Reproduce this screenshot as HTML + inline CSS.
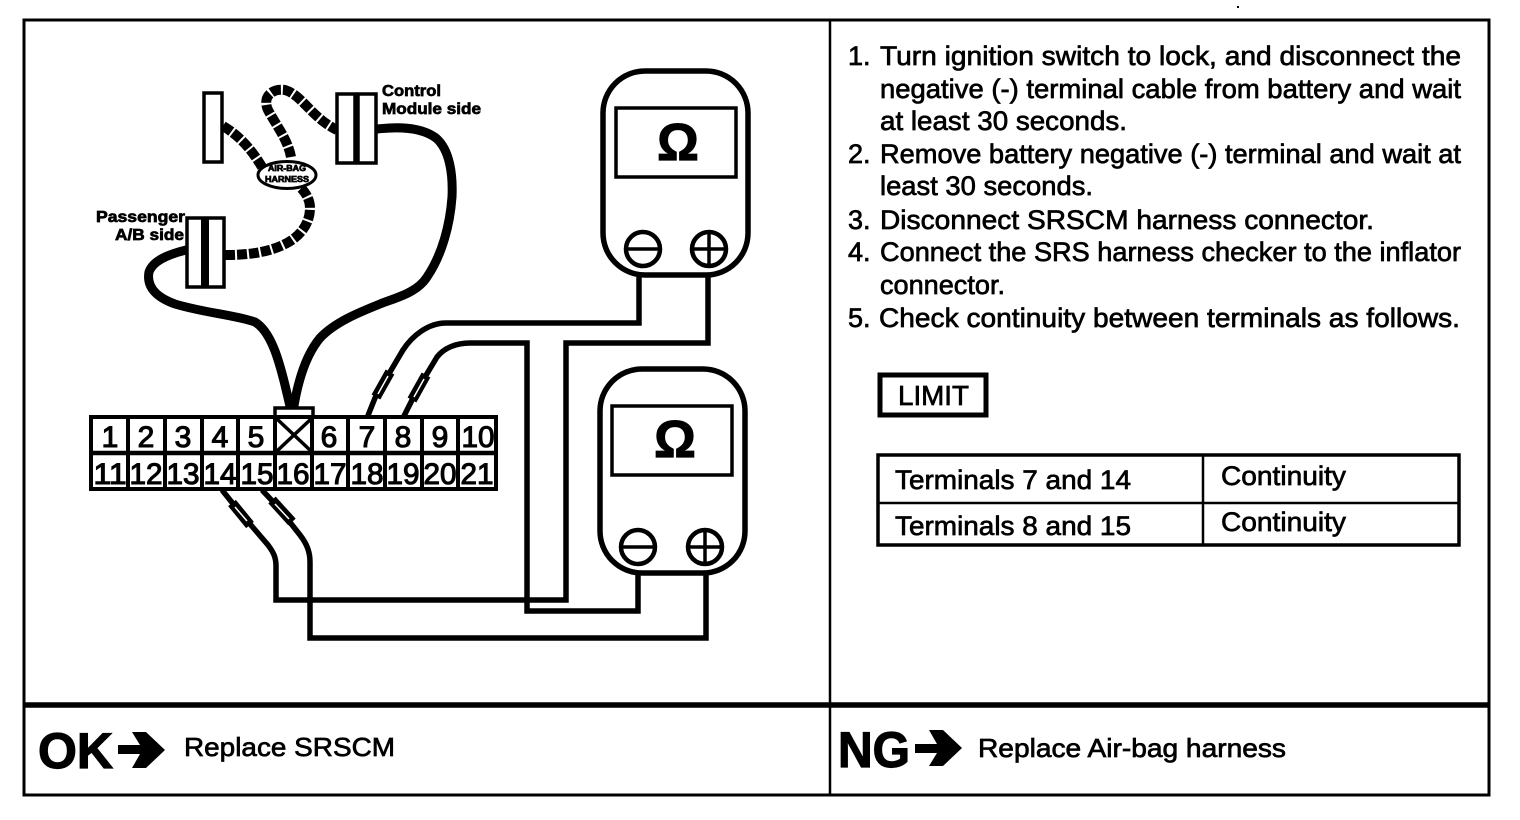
<!DOCTYPE html>
<html><head><meta charset="utf-8"><style>
html,body{margin:0;padding:0;background:#fff}
svg{display:block}
text{font-family:"Liberation Sans",Arial,sans-serif;fill:#000;stroke:#000;stroke-width:.7}
</style></head><body>
<svg width="1520" height="820" viewBox="0 0 1520 820" xmlns="http://www.w3.org/2000/svg">
<rect width="1520" height="820" fill="#fff"/>
<rect x="1237" y="6" width="2" height="2" fill="#000"/>
<!-- frame -->
<rect x="24" y="20" width="1465" height="775" fill="none" stroke="#000" stroke-width="3"/>
<line x1="830" y1="20" x2="830" y2="795" stroke="#000" stroke-width="2.5"/>
<line x1="24" y1="705" x2="1489" y2="705" stroke="#000" stroke-width="5.5"/>

<!-- harness solid -->
<g fill="none" stroke="#000" stroke-linecap="round" stroke-linejoin="round">
<path stroke-width="9" d="M377 129C395 127 420 126 436 138C450 150 453 175 452 197C450 225 442 255 427 277C417 293 395 298 380 304C360 312 335 322 320 338C305 356 297 385 293 412"/>
<path stroke-width="9" d="M186 250C170 254 153 260 149 272C146 288 158 298 175 304C205 313 235 315 255 322C272 332 280 365 285 385C288 398 290 405 291 412"/>
<path stroke-width="10" stroke-dasharray="10 2" stroke-linecap="butt" d="M225 255C250 255 270 252 287 243C302 235 310 222 310 208C310 200 306 193 301 188"/>
<path stroke-width="10" stroke-dasharray="10 2" stroke-linecap="butt" d="M223 126C238 135 250 147 262 167"/>
<path stroke-width="10" stroke-dasharray="10 2" stroke-linecap="butt" d="M291 157C288 140 276 125 268 110C262 97 272 88 285 90C302 95 312 118 337 130"/>
</g>
<!-- harness connectors -->
<g fill="#fff" stroke="#000" stroke-width="3.5">
<rect x="204" y="93" width="18" height="69"/>
<rect x="337" y="94" width="18" height="69"/>
<rect x="358" y="94" width="18" height="69"/>
<rect x="187" y="218" width="37" height="69"/>
</g>
<rect x="201" y="218" width="8" height="69" fill="#000"/>
<ellipse cx="287" cy="175" rx="29" ry="13.5" fill="#fff" stroke="#000" stroke-width="3"/>
<text x="268" y="171" font-size="8" font-weight="bold" textLength="38" lengthAdjust="spacingAndGlyphs">AIR-BAG</text>
<text x="265" y="182" font-size="8" font-weight="bold" textLength="44" lengthAdjust="spacingAndGlyphs">HARNESS</text>
<text x="382" y="96" font-size="16" font-weight="bold" textLength="59" lengthAdjust="spacingAndGlyphs">Control</text>
<text x="382" y="114" font-size="16" font-weight="bold" textLength="99" lengthAdjust="spacingAndGlyphs">Module side</text>
<text x="96" y="222" font-size="16" font-weight="bold" textLength="89" lengthAdjust="spacingAndGlyphs">Passenger</text>
<text x="115" y="240" font-size="16" font-weight="bold" textLength="69" lengthAdjust="spacingAndGlyphs">A/B side</text>

<!-- wires -->
<g fill="none" stroke="#000" stroke-width="5.5" stroke-linejoin="miter">
<path d="M367 418L375 398L390 372L403 350C412 336 428 323 446 323L639 323L639 277"/>
<path d="M403 418L412 400L425 377L437 357C444 348 456 343 470 343L527 343L527 611L638 611L638 575"/>
<path d="M222 490L238 510L268 545C274 553 276 558 276 566L276 600L566 600L566 343L708 343L708 277"/>
<path d="M262 490L278 507L300 535C307 544 310 552 310 562L310 638L706 638L706 575"/>
</g>
<!-- probes -->
<g stroke-linecap="butt">
<line x1="376" y1="397" x2="390" y2="372" stroke="#000" stroke-width="10"/>
<line x1="378" y1="394" x2="388" y2="376" stroke="#fff" stroke-width="1.5"/>
<line x1="412" y1="400" x2="426" y2="375" stroke="#000" stroke-width="10"/>
<line x1="414" y1="397" x2="424" y2="379" stroke="#fff" stroke-width="1.5"/>
<line x1="232" y1="503" x2="250" y2="525" stroke="#000" stroke-width="10"/>
<line x1="235" y1="507" x2="247" y2="521" stroke="#fff" stroke-width="1.5"/>
<line x1="272" y1="500" x2="292" y2="522" stroke="#000" stroke-width="10"/>
<line x1="275" y1="504" x2="289" y2="519" stroke="#fff" stroke-width="1.5"/>
</g>

<!-- terminal block -->
<rect x="275" y="408" width="38" height="10" fill="#fff" stroke="#000" stroke-width="3.5"/>
<rect x="91" y="417" width="405" height="72" fill="#fff" stroke="#000" stroke-width="4"/>
<line x1="91" y1="453" x2="496" y2="453" stroke="#000" stroke-width="4.5"/>
<g stroke="#000" stroke-width="4">
<line x1="128" y1="417" x2="128" y2="489"/><line x1="165" y1="417" x2="165" y2="489"/>
<line x1="202" y1="417" x2="202" y2="489"/><line x1="238" y1="417" x2="238" y2="489"/>
<line x1="275" y1="417" x2="275" y2="489"/><line x1="312" y1="417" x2="312" y2="489"/>
<line x1="348" y1="417" x2="348" y2="489"/><line x1="385" y1="417" x2="385" y2="489"/>
<line x1="422" y1="417" x2="422" y2="489"/><line x1="458" y1="417" x2="458" y2="489"/>
<line x1="277" y1="419" x2="311" y2="451" stroke-width="3.5"/><line x1="311" y1="419" x2="277" y2="451" stroke-width="3.5"/>
</g>
<g text-anchor="middle" style="stroke-width:1.1">
<g font-size="30">
<text x="110" y="447" style="stroke-width:1.1">1</text><text x="146" y="447" style="stroke-width:1.1">2</text><text x="183" y="447" style="stroke-width:1.1">3</text><text x="220" y="447" style="stroke-width:1.1">4</text><text x="256" y="447" style="stroke-width:1.1">5</text>
<text x="329" y="447" style="stroke-width:1.1">6</text><text x="367" y="447" style="stroke-width:1.1">7</text><text x="403" y="447" style="stroke-width:1.1">8</text><text x="440" y="447" style="stroke-width:1.1">9</text><text x="478" y="447" textLength="33" lengthAdjust="spacingAndGlyphs" style="stroke-width:1.1">10</text>
<text x="110" y="484" textLength="33" lengthAdjust="spacingAndGlyphs" style="stroke-width:1.1">11</text><text x="146" y="484" textLength="33" lengthAdjust="spacingAndGlyphs" style="stroke-width:1.1">12</text><text x="183" y="484" textLength="33" lengthAdjust="spacingAndGlyphs" style="stroke-width:1.1">13</text><text x="220" y="484" textLength="33" lengthAdjust="spacingAndGlyphs" style="stroke-width:1.1">14</text><text x="257" y="484" textLength="33" lengthAdjust="spacingAndGlyphs" style="stroke-width:1.1">15</text><text x="293" y="484" textLength="33" lengthAdjust="spacingAndGlyphs" style="stroke-width:1.1">16</text><text x="330" y="484" textLength="33" lengthAdjust="spacingAndGlyphs" style="stroke-width:1.1">17</text><text x="367" y="484" textLength="33" lengthAdjust="spacingAndGlyphs" style="stroke-width:1.1">18</text><text x="403" y="484" textLength="33" lengthAdjust="spacingAndGlyphs" style="stroke-width:1.1">19</text><text x="440" y="484" textLength="33" lengthAdjust="spacingAndGlyphs" style="stroke-width:1.1">20</text><text x="477" y="484" textLength="33" lengthAdjust="spacingAndGlyphs" style="stroke-width:1.1">21</text>
</g></g>

<!-- meter 1 -->
<rect x="603" y="71" width="145" height="204" rx="42" ry="42" fill="#fff" stroke="#000" stroke-width="5.5"/>
<rect x="616" y="108" width="120" height="69" fill="#fff" stroke="#000" stroke-width="3.5"/>
<text x="678" y="160" font-size="52" font-weight="bold" text-anchor="middle" style="stroke-width:1.2">Ω</text>
<circle cx="643" cy="249" r="17" fill="#fff" stroke="#000" stroke-width="4.5"/>
<line x1="627" y1="249" x2="659" y2="249" stroke="#000" stroke-width="3.5"/>
<circle cx="709" cy="249" r="17" fill="#fff" stroke="#000" stroke-width="4.5"/>
<line x1="693" y1="249" x2="725" y2="249" stroke="#000" stroke-width="3.5"/>
<line x1="709" y1="233" x2="709" y2="265" stroke="#000" stroke-width="3.5"/>

<!-- meter 2 -->
<rect x="600" y="369" width="145" height="204" rx="42" ry="42" fill="#fff" stroke="#000" stroke-width="5.5"/>
<rect x="612" y="406" width="120" height="69" fill="#fff" stroke="#000" stroke-width="3.5"/>
<text x="675" y="457" font-size="52" font-weight="bold" text-anchor="middle" style="stroke-width:1.2">Ω</text>
<circle cx="638" cy="547" r="17" fill="#fff" stroke="#000" stroke-width="4.5"/>
<line x1="622" y1="547" x2="654" y2="547" stroke="#000" stroke-width="3.5"/>
<circle cx="705" cy="547" r="17" fill="#fff" stroke="#000" stroke-width="4.5"/>
<line x1="689" y1="547" x2="721" y2="547" stroke="#000" stroke-width="3.5"/>
<line x1="705" y1="531" x2="705" y2="563" stroke="#000" stroke-width="3.5"/>

<!-- instructions -->
<g font-size="27">
<text x="848" y="65">1.</text><text x="880" y="65" textLength="581" lengthAdjust="spacingAndGlyphs">Turn ignition switch to lock, and disconnect the</text>
<text x="880" y="98" textLength="581" lengthAdjust="spacingAndGlyphs">negative (-) terminal cable from battery and wait</text>
<text x="880" y="130" textLength="247" lengthAdjust="spacingAndGlyphs">at least 30 seconds.</text>
<text x="848" y="163">2.</text><text x="880" y="163" textLength="581" lengthAdjust="spacingAndGlyphs">Remove battery negative (-) terminal and wait at</text>
<text x="880" y="195" textLength="213" lengthAdjust="spacingAndGlyphs">least 30 seconds.</text>
<text x="848" y="229">3.</text><text x="880" y="229" textLength="494" lengthAdjust="spacingAndGlyphs">Disconnect SRSCM harness connector.</text>
<text x="848" y="261">4.</text><text x="880" y="261" textLength="581" lengthAdjust="spacingAndGlyphs">Connect the SRS harness checker to the inflator</text>
<text x="880" y="294" textLength="125" lengthAdjust="spacingAndGlyphs">connector.</text>
<text x="848" y="327">5.</text><text x="879" y="327" textLength="581" lengthAdjust="spacingAndGlyphs">Check continuity between terminals as follows.</text>
</g>

<!-- LIMIT -->
<rect x="880" y="375" width="106" height="40" fill="#fff" stroke="#000" stroke-width="5"/>
<text x="898" y="405" font-size="28" textLength="71" lengthAdjust="spacingAndGlyphs">LIMIT</text>

<!-- table -->
<rect x="878" y="455" width="581" height="90" fill="#fff" stroke="#000" stroke-width="3.5"/>
<line x1="878" y1="503" x2="1459" y2="503" stroke="#000" stroke-width="2.5"/>
<line x1="1203" y1="455" x2="1203" y2="545" stroke="#000" stroke-width="2.5"/>
<g font-size="27">
<text x="895" y="489" textLength="236" lengthAdjust="spacingAndGlyphs">Terminals 7 and 14</text>
<text x="1221" y="485" textLength="125" lengthAdjust="spacingAndGlyphs">Continuity</text>
<text x="895" y="535" textLength="236" lengthAdjust="spacingAndGlyphs">Terminals 8 and 15</text>
<text x="1221" y="531" textLength="125" lengthAdjust="spacingAndGlyphs">Continuity</text>
</g>

<!-- footer -->
<text x="38" y="768" font-size="50" font-weight="bold" textLength="75" lengthAdjust="spacingAndGlyphs" style="stroke-width:1.2">OK</text>
<polygon points="118,745 140,745 132,732 146,732 165,750 146,768 132,768 140,754 118,754" fill="#000"/>
<text x="184" y="756" font-size="26" textLength="211" lengthAdjust="spacingAndGlyphs">Replace SRSCM</text>
<text x="838" y="767" font-size="50" font-weight="bold" textLength="72" lengthAdjust="spacingAndGlyphs" style="stroke-width:1.2">NG</text>
<polygon points="915,744 937,744 929,730 943,730 962,748 943,766 929,766 937,753 915,753" fill="#000"/>
<text x="978" y="757" font-size="26" textLength="308" lengthAdjust="spacingAndGlyphs">Replace Air-bag harness</text>
</svg>
</body></html>
